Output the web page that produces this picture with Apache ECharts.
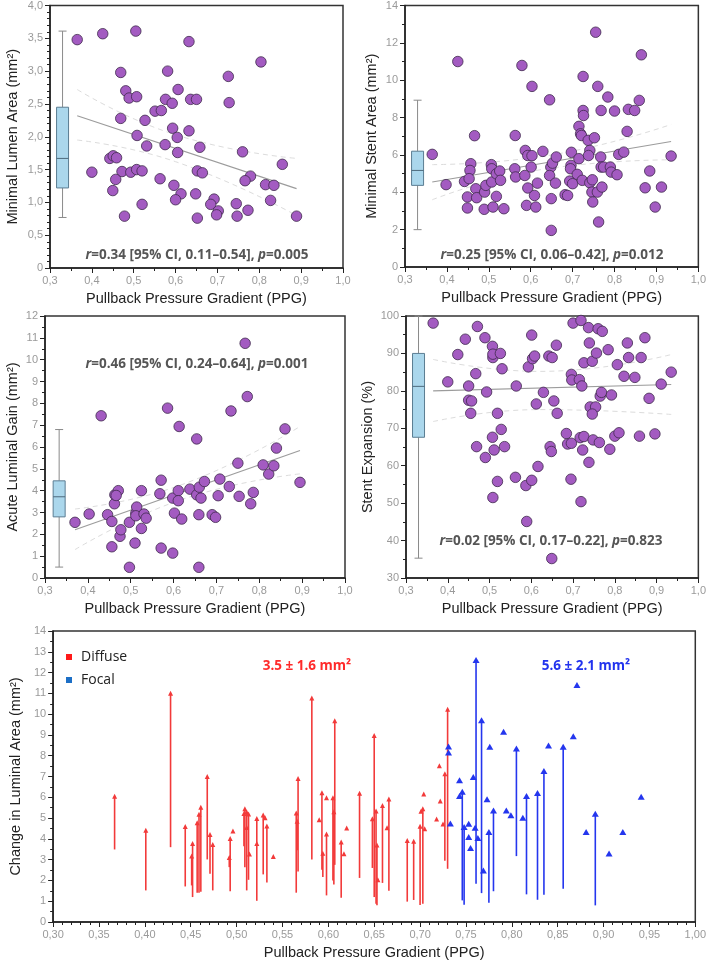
<!DOCTYPE html>
<html><head><meta charset="utf-8">
<script src="https://cdn.jsdelivr.net/npm/echarts@6/dist/echarts.min.js"></script>
<style>html,body{margin:0;padding:0;background:#fff}#c{width:709px;height:962px}</style>
</head><body><div id="c"></div>
<script>
// ---- Panel A: Minimal Lumen Area vs PPG ----
const mlaX = [0.365,0.426,0.505,0.632,0.804,0.469,0.581,0.726,0.606,0.481,0.489,0.507,0.576,0.636,0.650,0.592,0.728,0.551,0.566,0.527,0.469,0.593,0.632,0.508,0.604,0.531,0.575,0.658,0.605,0.760,0.443,0.451,0.459,0.855,0.400,0.472,0.493,0.507,0.520,0.652,0.664,0.779,0.457,0.563,0.766,0.596,0.815,0.835,0.450,0.613,0.648,0.520,0.600,0.692,0.684,0.745,0.827,0.702,0.698,0.773,0.478,0.652,0.747,0.889];
const mlaY = [3.48,3.57,3.61,3.45,3.14,2.98,3.00,2.92,2.72,2.70,2.59,2.61,2.57,2.57,2.57,2.51,2.52,2.39,2.40,2.25,2.28,2.13,2.09,2.02,1.99,1.86,1.88,1.84,1.76,1.77,1.67,1.71,1.68,1.58,1.46,1.47,1.46,1.50,1.48,1.48,1.45,1.40,1.35,1.36,1.33,1.26,1.27,1.26,1.18,1.13,1.13,0.97,1.04,1.05,0.97,0.98,1.03,0.87,0.81,0.88,0.79,0.76,0.79,0.79];
const mlaBox = [0.33, 0.77, 1.22, 1.67, 2.45, 3.61];
const mlaFit = [[0.365, 2.32], [0.889, 1.21]];
const mlaCIup = [[0.365, 2.72], [0.60, 2.03], [0.889, 1.67]];
const mlaCIlo = [[0.365, 1.95], [0.60, 1.62], [0.889, 0.80]];

// ---- Panel B: Minimal Stent Area vs PPG ----
const msaX = [0.365,0.398,0.426,0.442,0.449,0.449,0.457,0.455,0.453,0.466,0.469,0.471,0.490,0.493,0.489,0.506,0.507,0.507,0.510,0.518,0.518,0.526,0.528,0.536,0.579,0.563,0.562,0.564,0.587,0.593,0.603,0.601,0.586,0.593,0.590,0.603,0.609,0.616,0.612,0.629,0.645,0.648,0.645,0.652,0.661,0.649,0.659,0.649,0.682,0.688,0.697,0.696,0.695,0.693,0.700,0.715,0.719,0.721,0.725,0.725,0.726,0.715,0.711,0.723,0.737,0.741,0.738,0.752,0.741,0.747,0.746,0.748,0.755,0.760,0.759,0.762,0.768,0.767,0.768,0.770,0.774,0.784,0.790,0.792,0.800,0.806,0.810,0.822,0.830,0.833,0.848,0.859,0.864,0.884,0.873,0.912,0.897,0.935];
const msaY = [6.03,4.41,11.0,4.58,3.75,3.16,5.53,5.17,4.73,7.03,4.19,3.71,4.01,4.37,3.09,5.48,5.26,4.55,3.21,3.78,4.99,5.14,4.64,3.12,10.79,7.04,5.26,4.82,6.24,5.97,5.96,5.35,4.90,4.23,3.30,9.67,3.83,4.49,3.21,6.19,8.95,5.35,4.90,5.56,5.89,3.66,4.49,1.96,3.87,3.83,6.14,5.44,5.26,4.60,4.46,7.53,7.13,7.04,10.20,8.38,8.11,5.80,4.96,4.64,6.78,6.24,5.97,6.92,4.51,4.67,4.01,3.48,12.57,9.67,4.01,2.41,8.38,5.89,5.35,4.28,5.35,9.10,5.35,5.08,8.35,4.94,6.03,6.15,7.26,8.44,8.38,8.92,11.36,5.14,4.24,4.28,3.21,5.94];
const msaBox = [0.33, 2.0, 4.37, 5.17, 6.2, 8.93];
const msaFit = [[0.365, 4.55], [0.935, 6.72]];
const msaCIup = [[0.365, 5.48], [0.65, 6.0], [0.935, 7.63]];
const msaCIlo = [[0.365, 3.60], [0.65, 5.3], [0.935, 5.74]];

// ---- Panel C: Acute Luminal Gain vs PPG ----
const algX = [0.370,0.403,0.431,0.446,0.456,0.456,0.462,0.463,0.471,0.466,0.475,0.477,0.497,0.497,0.510,0.512,0.514,0.512,0.525,0.525,0.531,0.536,0.571,0.568,0.571,0.586,0.598,0.598,0.602,0.611,0.611,0.613,0.619,0.638,0.654,0.654,0.660,0.664,0.659,0.672,0.659,0.690,0.698,0.704,0.708,0.730,0.734,0.750,0.753,0.767,0.772,0.780,0.786,0.809,0.822,0.834,0.840,0.860,0.895];
const algY = [2.55,2.93,7.43,2.90,2.59,1.43,3.40,3.81,4.00,3.78,1.91,2.21,2.55,0.49,1.60,2.97,3.25,2.85,4.00,2.27,2.93,2.74,4.48,3.86,1.37,7.78,3.66,1.14,2.97,4.00,3.54,6.94,2.70,4.07,6.37,3.81,4.16,3.66,2.90,4.42,0.49,2.90,2.78,3.77,4.53,4.19,7.65,5.26,3.74,10.75,8.31,3.40,3.92,5.18,4.76,5.14,5.95,6.83,4.38];
const algBox = [0.333, 0.5, 2.8, 3.72, 4.45, 6.8];
const algFit = [[0.370, 2.21], [0.895, 5.84]];
const algCIup = [[0.370, 3.16], [0.62, 4.28], [0.895, 6.94]];
const algCIlo = [[0.370, 1.30], [0.62, 3.60], [0.895, 4.77]];

// ---- Panel D: Stent Expansion vs PPG ----
const seX = [0.365,0.400,0.424,0.442,0.450,0.450,0.457,0.455,0.467,0.471,0.469,0.489,0.493,0.490,0.507,0.508,0.508,0.507,0.511,0.508,0.526,0.530,0.519,0.528,0.519,0.536,0.564,0.562,0.593,0.601,0.603,0.608,0.612,0.587,0.601,0.616,0.589,0.629,0.642,0.650,0.660,0.654,0.662,0.645,0.648,0.649,0.684,0.687,0.696,0.700,0.696,0.697,0.695,0.719,0.715,0.721,0.726,0.717,0.726,0.723,0.719,0.737,0.739,0.746,0.756,0.741,0.754,0.746,0.738,0.748,0.763,0.760,0.770,0.765,0.768,0.784,0.792,0.788,0.806,0.800,0.810,0.822,0.830,0.833,0.848,0.863,0.859,0.872,0.882,0.896,0.911,0.935];
const seY = [98.1,82.4,89.7,93.8,81.3,77.5,77.3,74.0,84.6,97.2,65.1,94.2,79.7,62.2,91.9,88.9,89.8,67.6,64.2,51.5,90.0,85.9,74.0,69.7,55.8,65.1,81.3,56.9,86.4,94.9,88.6,89.3,76.5,54.7,56.1,59.8,45.1,79.6,89.3,88.9,92.2,77.3,74.0,65.1,63.8,35.2,68.6,65.8,66.0,98.1,84.4,82.9,56.4,98.8,83.0,81.3,87.5,67.5,67.8,64.2,50.4,96.9,92.8,87.9,90.1,75.7,75.7,73.8,60.9,66.9,66.2,96.6,95.9,78.6,79.6,91.0,78.9,64.4,87.0,67.9,68.8,83.9,92.8,88.9,83.6,88.9,67.9,94.2,78.0,68.5,81.8,85.0];
const seBox = [0.33, 35.3, 67.6, 81.2, 90.0, 100.0];
const seFit = [[0.365, 80.0], [0.935, 81.7]];
const seCIup = [[0.365, 88.4], [0.62, 85.2], [0.935, 89.7]];
const seCIlo = [[0.365, 71.8], [0.62, 75.0], [0.935, 73.7]];

// ---- Panel E: Change in luminal area (arrow from pre to post) ----
const diffuseX = [0.367,0.401,0.428,0.444,0.451,0.452,0.457,0.459,0.461,0.468,0.471,0.474,0.492,0.493,0.496,0.508,0.509,0.511,0.511,0.513,0.514,0.522,0.522,0.529,0.531,0.533,0.540,0.565,0.566,0.567,0.582,0.590,0.593,0.594,0.598,0.598,0.605,0.606,0.607,0.614,0.617,0.620,0.634,0.648,0.650,0.652,0.653,0.654,0.659,0.664,0.666,0.686,0.693,0.700,0.701,0.703,0.704,0.705,0.718,0.721,0.722,0.725,0.727,0.730];
const diffuseStart = [3.49,1.52,3.60,1.71,1.76,1.20,1.41,1.41,1.45,3.01,2.32,1.52,2.64,1.48,null,3.65,2.64,1.52,null,2.03,null,1.02,null,2.29,null,1.90,null,1.41,3.45,2.43,3.01,null,2.51,2.16,null,1.28,2.00,1.80,2.75,1.17,null,null,2.12,2.60,1.20,0.88,0.80,null,1.88,null,1.50,0.98,1.06,0.82,null,0.88,null,null,null,null,null,null,2.95,2.56];
const diffuseEnd = [6.05,4.41,11.0,4.60,3.17,3.78,4.78,5.18,5.52,7.00,4.21,3.73,3.10,4.02,4.38,5.22,5.45,5.29,4.55,5.19,3.27,4.98,3.78,5.15,5.02,4.62,3.15,5.24,4.85,6.90,10.78,4.92,6.22,3.31,5.98,4.23,5.98,5.31,9.68,3.85,3.28,4.52,6.20,4.97,8.97,5.34,3.71,2.03,5.60,4.53,5.92,3.92,3.88,4.61,5.33,5.45,6.16,4.49,4.96,7.52,5.82,4.72,7.13,10.23];
const focalX = [0.731,0.731,0.733,0.743,0.743,0.746,0.748,0.753,0.753,0.755,0.758,0.760,0.761,0.763,0.767,0.769,0.773,0.775,0.776,0.780,0.791,0.794,0.799,0.805,0.812,0.816,0.828,0.835,0.840,0.856,0.867,0.871,0.881,0.891,0.906,0.921,0.941];
const focalStart = [null,null,null,null,null,1.04,0.83,null,null,null,null,null,1.84,null,1.39,null,null,0.93,null,1.48,null,null,null,3.17,null,1.33,1.07,1.31,null,1.60,null,null,null,0.80,null,null,null];
const focalEnd = [8.44,8.15,4.74,6.82,6.06,6.27,4.57,4.73,4.09,3.56,6.98,4.54,12.60,4.04,9.71,2.48,5.90,4.33,8.43,5.37,9.15,5.37,5.13,8.35,5.02,6.06,6.21,7.27,8.49,8.43,8.94,11.40,4.33,5.21,3.29,4.33,6.02];

// ---- text ----
const annA = '{i|r}=0.34 [95% CI, 0.11\u20130.54], {i|p}=0.005';
const annB = '{i|r}=0.25 [95% CI, 0.06\u20130.42], {i|p}=0.012';
const annC = '{i|r}=0.46 [95% CI, 0.24\u20130.64], {i|p}=0.001';
const annD = '{i|r}=0.02 [95% CI, 0.17\u20130.22], {i|p}=0.823';
const annDiffuse = '3.5 \u00b1 1.6 mm\u00b2';
const annFocal = '5.6 \u00b1 2.1 mm\u00b2';

// ---------------- build ----------------
const zip = (xs, ys) => xs.map((x, i) => [x, ys[i]]);
const comma = d => v => (v === 0 ? '0' : v.toFixed(d).replace('.', ','));
const FONT = 'Liberation Sans, Arial, sans-serif';
const AFONT = 'Open Sans, sans-serif';
const PURPLE = '#a35bc1';
const RED = '#f23a3a';
const BLUE = '#2436ee';

const grids = [
  {left: 50, top: 5, width: 293, height: 263},
  {left: 405, top: 5, width: 297, height: 262},
  {left: 45, top: 316, width: 300, height: 262},
  {left: 406, top: 316, width: 296, height: 262},
  {left: 44, top: 631, width: 654, height: 291}
].map(g => Object.assign(g, {show: true, borderColor: '#333', borderWidth: 1.5, backgroundColor: 'transparent'}));

function axisBase(extra) {
  return Object.assign({
    type: 'value',
    axisLine: {show: true, onZero: false, lineStyle: {color: '#222', width: 1.5}},
    axisTick: {show: true, length: 5, lineStyle: {color: '#222', width: 1}},
    minorTick: {show: true, splitNumber: 2, length: 3, lineStyle: {color: '#222', width: 1}},
    splitLine: {show: false},
    minorSplitLine: {show: false},
    axisLabel: {color: '#9a9a9a', fontSize: 11, fontFamily: FONT, margin: 7},
    nameTextStyle: {color: '#222', fontSize: 14.5, fontFamily: FONT},
    nameLocation: 'middle'
  }, extra);
}
const xTitle = 'Pullback Pressure Gradient (PPG)';
const xAxes = [0, 1, 2, 3].map(i => axisBase({
  gridIndex: i, min: 0.3, max: 1.0, interval: 0.1, name: xTitle, nameGap: 23,
  axisLabel: {color: '#9a9a9a', fontSize: 11, fontFamily: FONT, margin: 7, formatter: comma(1)}
}));
xAxes.push(axisBase({
  gridIndex: 4, min: 0.3, max: 1.0, interval: 0.05, name: xTitle, nameGap: 23,
  minorTick: {show: true, splitNumber: 5, length: 3, lineStyle: {color: '#222'}},
  axisLabel: {color: '#9a9a9a', fontSize: 11, fontFamily: FONT, margin: 7, formatter: comma(2)}
}));
const yAxes = [
  axisBase({gridIndex: 0, min: 0, max: 4, interval: 0.5, name: 'Minimal Lumen Area (mm\u00b2)', nameGap: 30,
    minorTick: {show: true, splitNumber: 5, length: 3, lineStyle: {color: '#222'}},
    axisLabel: {color: '#9a9a9a', fontSize: 11, fontFamily: FONT, margin: 7, formatter: comma(1)}}),
  axisBase({gridIndex: 1, min: 0, max: 14, interval: 2, name: 'Minimal Stent Area (mm\u00b2)', nameGap: 26}),
  axisBase({gridIndex: 2, min: 0, max: 12, interval: 1, name: 'Acute Luminal Gain (mm\u00b2)', nameGap: 25}),
  axisBase({gridIndex: 3, min: 30, max: 100, interval: 10, name: 'Stent Expansion (%)', nameGap: 31}),
  axisBase({gridIndex: 4, min: 0, max: 14, interval: 1, name: 'Change in Luminal Area (mm\u00b2)', nameGap: 24})
];

function boxSeries(idx, box) {
  return {
    type: 'custom', xAxisIndex: idx, yAxisIndex: idx, z: 1, silent: true,
    data: [box],
    renderItem: function (params, api) {
      const x = api.value(0);
      const p = v => api.coord([x, v]);
      const w = 12, cap = 4;
      const pMin = p(api.value(1)), pQ1 = p(api.value(2)), pMed = p(api.value(3)), pQ3 = p(api.value(4)), pMax = p(api.value(5));
      const cx = pMed[0];
      const ls = {stroke: '#8a8a8a', lineWidth: 1};
      return {type: 'group', children: [
        {type: 'line', shape: {x1: cx, y1: pMax[1], x2: cx, y2: pQ3[1]}, style: ls},
        {type: 'line', shape: {x1: cx, y1: pQ1[1], x2: cx, y2: pMin[1]}, style: ls},
        {type: 'line', shape: {x1: cx - cap, y1: pMax[1], x2: cx + cap, y2: pMax[1]}, style: ls},
        {type: 'line', shape: {x1: cx - cap, y1: pMin[1], x2: cx + cap, y2: pMin[1]}, style: ls},
        {type: 'rect', shape: {x: cx - w / 2, y: pQ3[1], width: w, height: pQ1[1] - pQ3[1]},
          style: {fill: '#abd7ec', stroke: '#5b7d92', lineWidth: 1}},
        {type: 'line', shape: {x1: cx - w / 2, y1: pMed[1], x2: cx + w / 2, y2: pMed[1]}, style: {stroke: '#4d6a7c', lineWidth: 1}}
      ]};
    }
  };
}
function lineSeries(idx, data, dashed) {
  return {
    type: 'line', xAxisIndex: idx, yAxisIndex: idx, data: data, symbol: 'none', smooth: dashed ? 0.5 : false,
    silent: true, z: 2,
    lineStyle: dashed ? {color: '#dcdcdc', width: 1, type: [5, 4]} : {color: '#9c9c9c', width: 1.2}
  };
}
function scatterSeries(idx, xs, ys) {
  return {
    type: 'scatter', xAxisIndex: idx, yAxisIndex: idx, data: zip(xs, ys), symbolSize: 10.5, z: 3,
    itemStyle: {color: PURPLE, borderColor: '#3f2a4c', borderWidth: 0.8, opacity: 1}
  };
}
const panels = [
  [mlaX, mlaY, mlaBox, mlaFit, mlaCIup, mlaCIlo],
  [msaX, msaY, msaBox, msaFit, msaCIup, msaCIlo],
  [algX, algY, algBox, algFit, algCIup, algCIlo],
  [seX, seY, seBox, seFit, seCIup, seCIlo]
];
const series = [];
panels.forEach((p, i) => {
  series.push(boxSeries(i, p[2]));
  series.push(lineSeries(i, p[4], true));
  series.push(lineSeries(i, p[5], true));
  series.push(lineSeries(i, p[3], false));
  series.push(scatterSeries(i, p[0], p[1]));
});

function shaftData(xs, starts, ends) {
  const out = [];
  xs.forEach((x, i) => { if (starts[i] !== null) out.push([x, starts[i], ends[i]]); });
  return out;
}
function shaftSeries(xs, starts, ends, color) {
  return {
    type: 'custom', xAxisIndex: 4, yAxisIndex: 4, silent: true, z: 2,
    data: shaftData(xs, starts, ends),
    renderItem: function (params, api) {
      const a = api.coord([api.value(0), api.value(1)]);
      const b = api.coord([api.value(0), api.value(2)]);
      return {type: 'line', shape: {x1: a[0], y1: a[1], x2: b[0], y2: b[1]}, style: {stroke: color, lineWidth: 1.6}};
    }
  };
}
series.push(shaftSeries(diffuseX, diffuseStart, diffuseEnd, RED));
series.push(shaftSeries(focalX, focalStart, focalEnd, BLUE));
series.push({
  name: 'Diffuse', type: 'scatter', xAxisIndex: 4, yAxisIndex: 4, symbol: 'triangle', symbolSize: [5, 5], z: 3,
  data: zip(diffuseX, diffuseEnd), itemStyle: {color: RED, opacity: 1}
});
series.push({
  name: 'Focal', type: 'scatter', xAxisIndex: 4, yAxisIndex: 4, symbol: 'triangle', symbolSize: [7, 6], z: 3,
  data: zip(focalX, focalEnd), itemStyle: {color: BLUE, opacity: 1}
});

function annText(x, y, text, color) {
  return {
    type: 'text', x: x, y: y, silent: true, z: 10,
    style: {
      text: text, align: 'center', verticalAlign: 'middle',
      fontSize: 13.5, fontWeight: 'bold', fontFamily: AFONT, fill: color,
      rich: {i: {fontStyle: 'italic', fontSize: 13.5, fontWeight: 'bold', fontFamily: AFONT, fill: color}}
    }
  };
}

const option = {
  animation: false,
  backgroundColor: '#fff',
  grid: grids,
  xAxis: xAxes,
  yAxis: yAxes,
  legend: {
    orient: 'vertical', left: 61, top: 645, itemWidth: 6, itemHeight: 6, itemGap: 9, icon: 'rect',
    textStyle: {fontSize: 14, fontFamily: AFONT, color: '#222', padding: [0, 0, 0, 4]},
    data: [{name: 'Diffuse', itemStyle: {color: '#ff1a1a'}}, {name: 'Focal', itemStyle: {color: '#1c6fc6'}}],
    selectedMode: false
  },
  graphic: [
    annText(197, 255, annA, '#555'),
    annText(552, 255, annB, '#555'),
    annText(197, 364, annC, '#555'),
    annText(551, 541, annD, '#555'),
    annText(307, 666, annDiffuse, '#ff2a2a'),
    annText(586, 666, annFocal, '#2233ee')
  ],
  series: series
};
const chart = echarts.init(document.getElementById('c'), null, {renderer: 'canvas'});
chart.setOption(option);
</script></body></html>
